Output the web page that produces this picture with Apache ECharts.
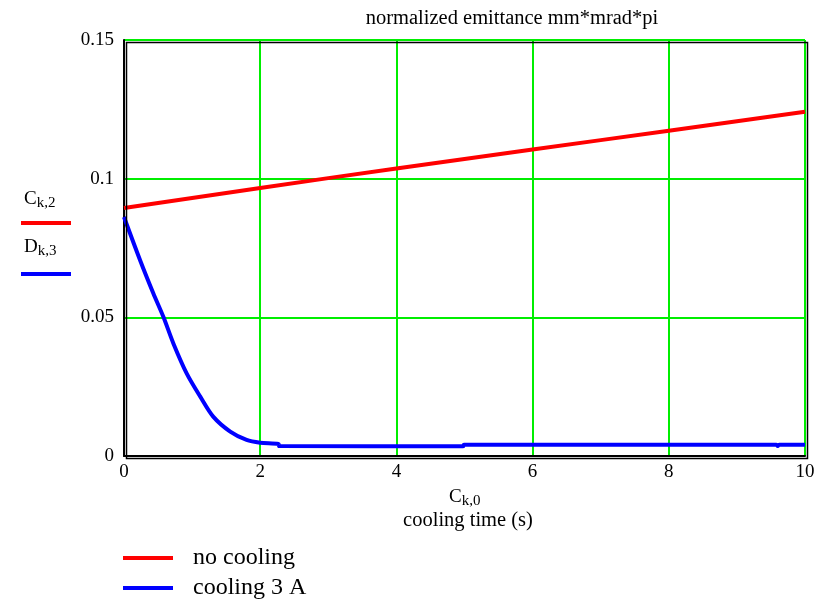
<!DOCTYPE html>
<html>
<head>
<meta charset="utf-8">
<script src="https://cdn.jsdelivr.net/npm/echarts@6/dist/echarts.min.js"></script>
<style>html,body{margin:0;padding:0;background:#fff}#c{width:835px;height:607px}</style>
</head>
<body>
<div id="c"></div>
<script>
const titleText = 'normalized emittance mm*mrad*pi';
const xAxisTitle = 'cooling time (s)';
const seriesNames = ['no cooling', 'cooling 3 A'];
const noCoolingT = [0, 1, 2, 3, 4, 5, 6, 7, 8, 9, 10];
const noCoolingV = [0.0894, 0.0930, 0.0966, 0.1002, 0.1037, 0.1071, 0.1105, 0.1139, 0.1173, 0.1207, 0.1241];
const coolingT = [0, 0.235, 0.43, 0.578, 0.725, 0.92, 1.12, 1.31, 1.56, 1.80, 2.0, 2.27, 2.28, 4.98, 4.99, 9.58, 9.6, 9.62, 10];
const coolingV = [0.0862, 0.0707, 0.0587, 0.0502, 0.0406, 0.0298, 0.0214, 0.0142, 0.0088, 0.0058, 0.0048, 0.0043, 0.0036, 0.0035, 0.0041, 0.0041, 0.0036, 0.0041, 0.0041];

const font = 'Liberation Serif, Times New Roman, serif';
const chart = echarts.init(document.getElementById('c'));
const pairs = (xs, ys) => xs.map((x, i) => [x, ys[i]]);
const rich = {
  b: { fontFamily: font, fontSize: 19, fill: '#000', color: '#000' },
  s: { fontFamily: font, fontSize: 15, fill: '#000', color: '#000', padding: [9, 0, 0, 0] }
};
chart.setOption({
  backgroundColor: '#fff',
  animation: false,
  title: {
    text: titleText, left: 512, top: 8, textAlign: 'center', padding: 0,
    textStyle: { fontFamily: font, fontSize: 20.5, fontWeight: 'normal', color: '#000' }
  },
  grid: { left: 124, top: 40, right: 30, bottom: 151 },
  xAxis: {
    type: 'value', min: 0, max: 10, interval: 2,
    axisLine: { show: true, onZero: false, lineStyle: { color: '#000', width: 2 } },
    axisTick: { show: false },
    axisLabel: { fontFamily: font, fontSize: 19, color: '#000', margin: 7 },
    splitLine: { show: true, lineStyle: { color: '#00ee00', width: 2 } }
  },
  yAxis: {
    type: 'value', min: 0, max: 0.15, interval: 0.05,
    axisLine: { show: true, lineStyle: { color: '#000', width: 2 } },
    axisTick: { show: false },
    axisLabel: { fontFamily: font, fontSize: 19, color: '#000', margin: 10 },
    splitLine: { show: true, lineStyle: { color: '#00ee00', width: 2 } }
  },
  legend: {
    orient: 'vertical', left: 123, top: 546, itemGap: 6, padding: 0,
    itemWidth: 50, itemHeight: 4, icon: 'rect',
    textStyle: { fontFamily: font, fontSize: 24, color: '#000', padding: [0, 0, 0, 15] },
    data: seriesNames
  },
  graphic: [
    { type: 'rect', left: 124, top: 40, shape: { width: 681, height: 416 }, style: { fill: 'none', stroke: '#000', lineWidth: 1.5 }, silent: true, z: 10 },
    { type: 'text', x: 24, y: 187, style: { rich: rich, text: '{b|C}{s|k,2}' } },
    { type: 'rect', shape: { x: 21, y: 221, width: 50, height: 4 }, style: { fill: '#ff0000' } },
    { type: 'text', x: 24, y: 235, style: { rich: rich, text: '{b|D}{s|k,3}' } },
    { type: 'rect', shape: { x: 21, y: 272, width: 50, height: 4 }, style: { fill: '#0000ff' } },
    { type: 'text', x: 449, y: 485, style: { rich: rich, text: '{b|C}{s|k,0}' } },
    { type: 'text', x: 468, y: 521, style: { text: xAxisTitle, fontFamily: font, fontSize: 20.5, fill: '#000', align: 'center', verticalAlign: 'middle' } }
  ],
  series: [
    { name: seriesNames[0], type: 'line', data: pairs(noCoolingT, noCoolingV), showSymbol: false, lineStyle: { color: '#ff0000', width: 4 }, itemStyle: { color: '#ff0000' }, z: 5 },
    { name: seriesNames[1], type: 'line', smooth: 0.3, data: pairs(coolingT, coolingV), showSymbol: false, lineStyle: { color: '#0000ff', width: 4 }, itemStyle: { color: '#0000ff' }, z: 5 }
  ]
});
</script>
</body>
</html>
